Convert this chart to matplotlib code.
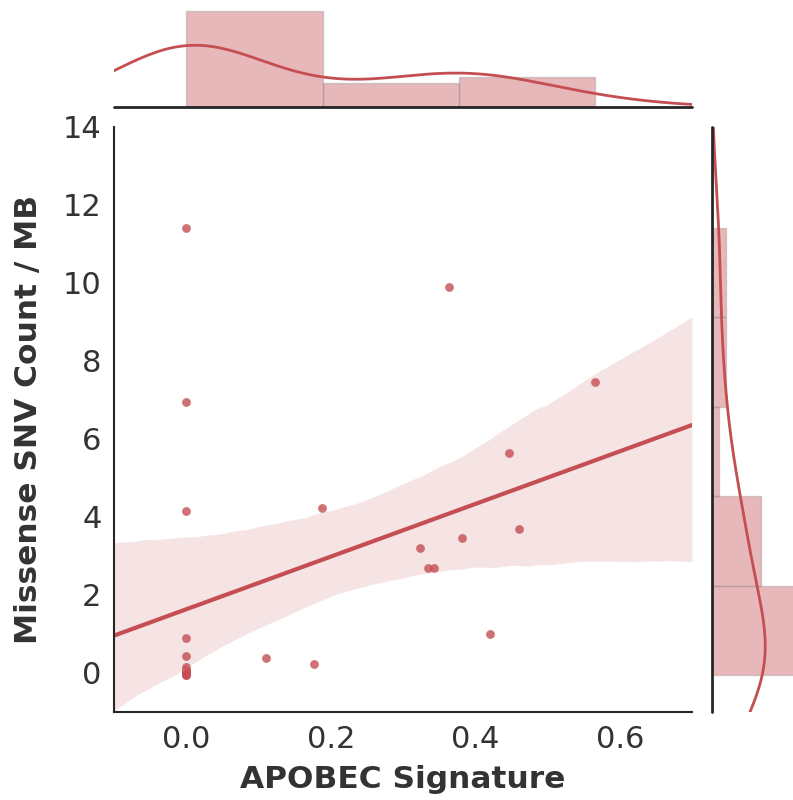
import numpy as np
import matplotlib.pyplot as plt
import seaborn as sns

# APOBEC signature vs missense SNV count per MB
apobec = [0.0, 0.0, 0.0, 0.0, 0.0, 0.0, 0.0, 0.0, 0.0, 0.0, 0.0, 0.0, 0.0,
          0.111, 0.177, 0.188, 0.324, 0.335, 0.343, 0.364,
          0.382, 0.420, 0.447, 0.461, 0.566]
snv = [11.41, 6.94, 4.16, 0.90, 0.44, 0.15, 0.08, 0.05, 0.02, 0.0, -0.02, -0.04, -0.06,
       0.39, 0.23, 4.24, 3.21, 2.70, 2.70, 9.90,
       3.47, 1.00, 5.63, 3.68, 7.46]

x = np.array(apobec)
y = np.array(snv)

sns.set_style("white")
color = "#C44E52"
txt = ".2"

fig = plt.figure(figsize=(7.93, 8.0), dpi=100)
W, H = 793.0, 800.0
ax = fig.add_axes([114 / W, (H - 712) / H, 578 / W, 585 / H])
ax_top = fig.add_axes([114 / W, (H - 107) / H, 578 / W, 107 / H])
ax_right = fig.add_axes([712 / W, (H - 712) / H, 100 / W, 585 / H])

# joint regression plot (limits first so the fit spans the whole axis)
ax.set_xlim(-0.1, 0.7)
ax.set_ylim(-1, 14)
sns.regplot(x=x, y=y, ax=ax, color=color, truncate=False, seed=0,
            scatter_kws={"s": 40, "alpha": 0.8, "linewidths": 0},
            line_kws={"lw": 3})
ax.set_xlim(-0.1, 0.7)
ax.set_ylim(-1, 14)
ax.set_xticks([0.0, 0.2, 0.4, 0.6])
ax.set_yticks(range(0, 15, 2))
ax.tick_params(labelsize=22, colors=txt, length=0, pad=9)
ax.set_xlabel("APOBEC Signature", fontsize=22.5, fontweight="bold", color=txt, labelpad=8)
ax.set_ylabel("Missense SNV Count / MB", fontsize=22.5, fontweight="bold", color=txt, labelpad=14)
sns.despine(ax=ax)
for s in ["left", "bottom"]:
    ax.spines[s].set_color(".15")
    ax.spines[s].set_linewidth(1.5)

# top marginal
sns.histplot(x=x, ax=ax_top, bins=3, stat="density", color=color, alpha=0.4,
             edgecolor=(0.5, 0.5, 0.5, 0.3), linewidth=1)
sns.kdeplot(x=x, ax=ax_top, color=color, lw=2, cut=3)
ax_top.set_xlim(ax.get_xlim())
ax_top.set_ylim(0, 3.78)
ax_top.set_axis_off()
ax_top.axhline(0, color=".15", lw=2, clip_on=False)

# right marginal
sns.histplot(y=y, ax=ax_right, bins=5, stat="density", color=color, alpha=0.4,
             edgecolor=(0.5, 0.5, 0.5, 0.3), linewidth=1)
sns.kdeplot(y=y, ax=ax_right, color=color, lw=2, cut=3)
ax_right.set_ylim(ax.get_ylim())
ax_right.set_xlim(0, 0.25)
ax_right.set_axis_off()
ax_right.axvline(0, color=".15", lw=2, clip_on=False)

plt.savefig("out.png", dpi=100)
